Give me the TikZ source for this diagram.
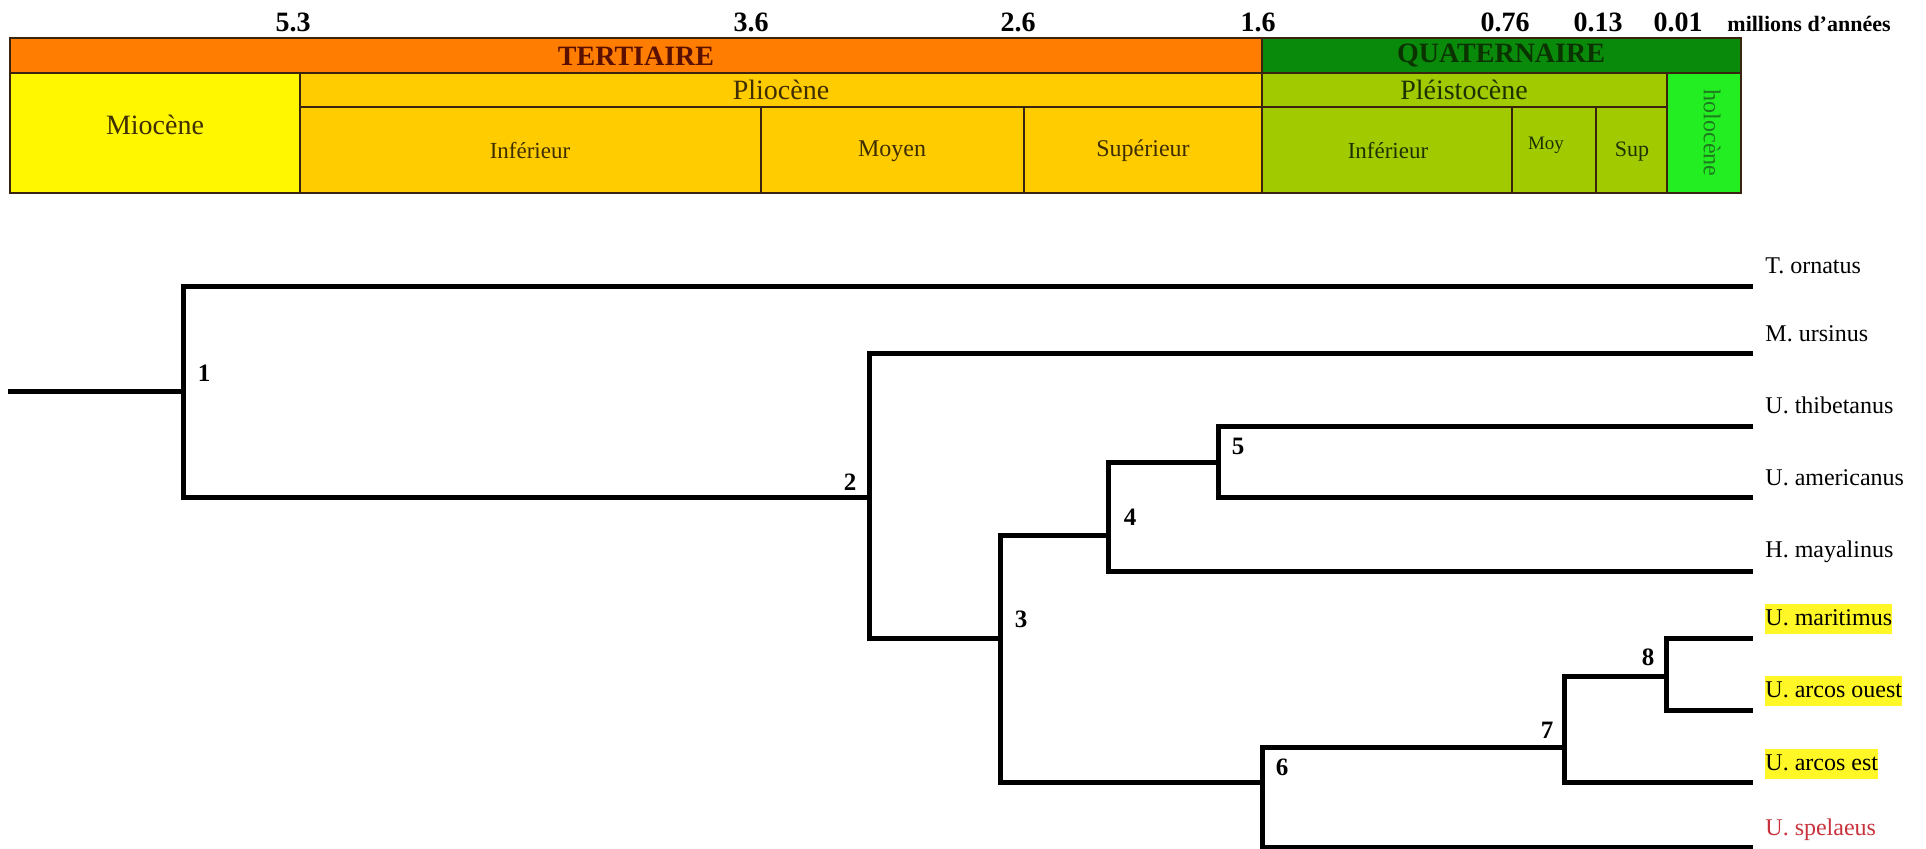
\documentclass[tikz,border=0pt]{standalone}
\usepackage{fontspec}
\setmainfont{Liberation Serif}
\newcommand\setfs[1]{\fontsize{#1}{#1}\selectfont}
\definecolor{orng}{HTML}{FF7D00}
\definecolor{dgreen}{HTML}{0A8A0A}
\definecolor{yel}{HTML}{FFF700}
\definecolor{gold}{HTML}{FFCC00}
\definecolor{lgreen}{HTML}{A2CA00}
\definecolor{bgreen}{HTML}{22EE22}
\definecolor{brd}{HTML}{3A2410}
\definecolor{terttxt}{HTML}{5A1000}
\definecolor{quattxt}{HTML}{0A3300}
\definecolor{warmtxt}{HTML}{3E2E00}
\definecolor{greentxt}{HTML}{1C3300}
\definecolor{holotxt}{HTML}{1E7A1E}
\definecolor{hilite}{HTML}{FFF726}
\definecolor{redtxt}{HTML}{C8323C}
\tikzset{
  cell/.style={draw=brd, line width=0.8pt},
  celltxt/.style={inner sep=0pt, text=warmtxt},
  gcelltxt/.style={inner sep=0pt, text=greentxt},
  agelab/.style={inner sep=0pt, font=\setfs{14pt}\bfseries},
  branch/.style={line width=2.5pt, line cap=rect, line join=miter},
  nodenum/.style={inner sep=0pt, font=\setfs{12.5pt}\bfseries},
  taxon/.style={anchor=west, inner xsep=0pt, inner ysep=1.5pt, text height=9pt, text depth=3pt, font=\setfs{12pt}},
  hl/.style={taxon, fill=hilite}
}
\begin{document}
\begin{tikzpicture}[x=0.5pt,y=-0.5pt]
\useasboundingbox (0,0) rectangle (1926,849);

% ---- age scale ----
\node[agelab] (a53) at (293,22) {5.3};
\node[agelab] (a36) at (751,22) {3.6};
\node[agelab] (a26) at (1018,22) {2.6};
\node[agelab] (a16) at (1258,22) {1.6};
\node[agelab] (a076) at (1505,22) {0.76};
\node[agelab] (a013) at (1598,22) {0.13};
\node[agelab] (a001) at (1678,22) {0.01};
\node[inner sep=0pt, anchor=base west, font=\setfs{11pt}\bfseries] (unit) at (1727,0 |- a001.base) {millions d’années};

% ---- table ----
\filldraw[cell, fill=orng] (10,38) rectangle (1262,73);
\filldraw[cell, fill=dgreen] (1262,38) rectangle (1741,73);
\filldraw[cell, fill=yel] (10,73) rectangle (300,193);
\filldraw[cell, fill=gold] (300,73) rectangle (1262,107);
\filldraw[cell, fill=gold] (300,107) rectangle (761,193);
\filldraw[cell, fill=gold] (761,107) rectangle (1024,193);
\filldraw[cell, fill=gold] (1024,107) rectangle (1262,193);
\filldraw[cell, fill=lgreen] (1262,73) rectangle (1667,107);
\filldraw[cell, fill=lgreen] (1262,107) rectangle (1512,193);
\filldraw[cell, fill=lgreen] (1512,107) rectangle (1596,193);
\filldraw[cell, fill=lgreen] (1596,107) rectangle (1667,193);
\filldraw[cell, fill=bgreen] (1667,73) rectangle (1741,193);

\node[inner sep=0pt, text=terttxt, font=\setfs{14pt}\bfseries] (tert) at (636,56) {TERTIAIRE};
\node[inner sep=0pt, text=quattxt, font=\setfs{14pt}\bfseries] (quat) at (1501,56) {QUATERNAIRE};
\node[celltxt, font=\setfs{14pt}] (mio) at (155,125) {Miocène};
\node[celltxt, font=\setfs{14pt}] (plio) at (781,90) {Pliocène};
\node[celltxt, font=\setfs{11.5pt}] (pinf) at (530,151) {Inférieur};
\node[celltxt, font=\setfs{12pt}] (pmoy) at (892,151) {Moyen};
\node[celltxt, font=\setfs{12pt}] (psup) at (1143,151) {Supérieur};
\node[gcelltxt, font=\setfs{14pt}] (pleis) at (1464,90) {Pléistocène};
\node[gcelltxt, font=\setfs{11.5pt}] (qinf) at (1388,151) {Inférieur};
\node[gcelltxt, font=\setfs{9.5pt}] (qmoy) at (1546,145) {Moy};
\node[gcelltxt, font=\setfs{11pt}] (qsup) at (1632,152) {Sup};
\node[inner sep=0pt, text=holotxt, font=\setfs{12pt}, rotate=-90] (holo) at (1712,133) {holocène};

% ---- tree ----
\coordinate (r0) at (10,392);
\coordinate (J1) at (183,392);
\coordinate (J2) at (869,498);
\coordinate (J3) at (1000,638);
\coordinate (J4) at (1108,535);
\coordinate (J5) at (1218,463);
\coordinate (J6) at (1262,782);
\coordinate (J7) at (1564,747);
\coordinate (J8) at (1666,676);
\coordinate (eOrn) at (1750,287);
\coordinate (eUrs) at (1750,354);
\coordinate (eThi) at (1750,427);
\coordinate (eAme) at (1750,498);
\coordinate (eMay) at (1750,571);
\coordinate (eMar) at (1750,638);
\coordinate (eOue) at (1750,710);
\coordinate (eEst) at (1750,782);
\coordinate (eSpe) at (1750,847);

\draw[branch] (r0) -- (J1);
\draw[branch] (J1) |- (eOrn);
\draw[branch] (J1) |- (J2);
\draw[branch] (J2) |- (eUrs);
\draw[branch] (J2) |- (J3);
\draw[branch] (J3) |- (J4);
\draw[branch] (J3) |- (J6);
\draw[branch] (J4) |- (J5);
\draw[branch] (J4) |- (eMay);
\draw[branch] (J5) |- (eThi);
\draw[branch] (J5) |- (eAme);
\draw[branch] (J6) |- (J7);
\draw[branch] (J6) |- (eSpe);
\draw[branch] (J7) |- (J8);
\draw[branch] (J7) |- (eEst);
\draw[branch] (J8) |- (eMar);
\draw[branch] (J8) |- (eOue);

\node[nodenum] (l1) at (204,373) {1};
\node[nodenum] (l2) at (850,482) {2};
\node[nodenum] (l3) at (1021,619) {3};
\node[nodenum] (l4) at (1130,517) {4};
\node[nodenum] (l5) at (1238,446) {5};
\node[nodenum] (l6) at (1282,767) {6};
\node[nodenum] (l7) at (1547,730) {7};
\node[nodenum] (l8) at (1648,657) {8};

\node[taxon] (tOrn) at (1765,268) {T. ornatus};
\node[taxon] (tUrs) at (1765,336) {M. ursinus};
\node[taxon] (tThi) at (1765,408) {U. thibetanus};
\node[taxon] (tAme) at (1765,480) {U. americanus};
\node[taxon] (tMay) at (1765,552) {H. mayalinus};
\node[hl] (tMar) at (1765,619) {U. maritimus};
\node[hl] (tOue) at (1765,691) {U. arcos ouest};
\node[hl] (tEst) at (1765,764) {U. arcos est};
\node[taxon, text=redtxt] (tSpe) at (1765,829) {U. spelaeus};
\end{tikzpicture}
\end{document}
